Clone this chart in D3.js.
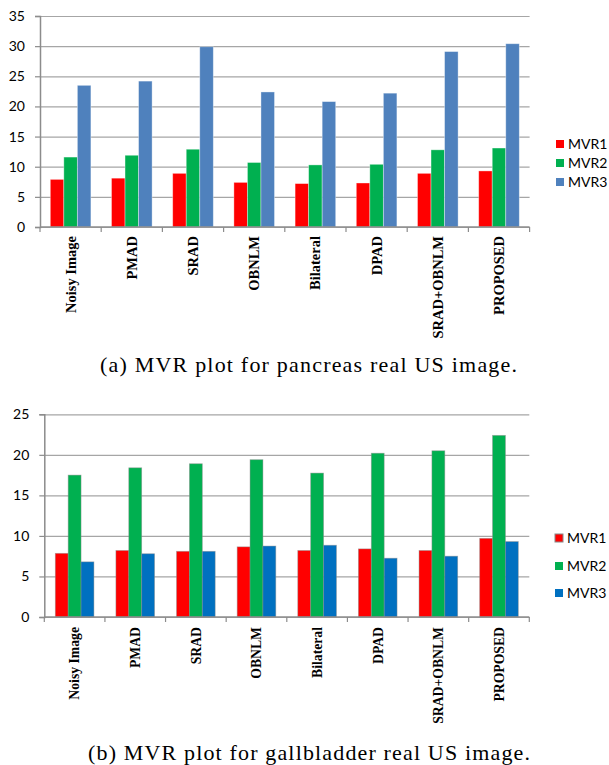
<!DOCTYPE html>
<html>
<head>
<meta charset="utf-8">
<script src="https://cdn.jsdelivr.net/npm/d3@7"></script>
<style>
    body { margin: 0; background: #fff; }
    svg { display: block; }
</style>
</head>
<body>
<svg id="chart" width="609" height="765"></svg>
<script>
const methods = ["Noisy Image", "PMAD", "SRAD", "OBNLM", "Bilateral", "DPAD", "SRAD+OBNLM", "PROPOSED"];
const seriesNames = ["MVR1", "MVR2", "MVR3"];

// (a) pancreas
const pancreasMVR1 = [7.9, 8.1, 8.9, 7.4, 7.2, 7.3, 8.9, 9.3];
const pancreasMVR2 = [11.6, 11.9, 12.9, 10.7, 10.3, 10.4, 12.8, 13.1];
const pancreasMVR3 = [23.5, 24.2, 29.9, 22.4, 20.8, 22.2, 29.1, 30.4];
const pancreasTicks = [0, 5, 10, 15, 20, 25, 30, 35];

// (b) gallbladder
const gallMVR1 = [7.85, 8.2, 8.1, 8.65, 8.2, 8.4, 8.2, 9.7];
const gallMVR2 = [17.5, 18.4, 18.9, 19.4, 17.75, 20.2, 20.5, 22.4];
const gallMVR3 = [6.8, 7.8, 8.1, 8.75, 8.85, 7.25, 7.5, 9.3];
const gallTicks = [0, 5, 10, 15, 20, 25];

class GroupedBars {
    constructor(svg, opts) {
        this.svg = d3.select(svg);
        this.o = opts;
    }

    draw() {
        const o = this.o;
        const g = this.svg.append("g");

        const x = d3.scaleBand().domain(methods).range([o.left, o.right]).padding(0);
        const bw = x.bandwidth();
        const inner = d3.scaleBand().domain(seriesNames).range([o.groupPad, bw - o.groupPad]).padding(0);
        const y = d3.scaleLinear().domain([0, d3.max(o.ticks)]).range([o.bottom, o.top]);

        // gridlines
        g.append("g")
            .attr("transform", `translate(${o.left},0)`)
            .call(d3.axisLeft(y).tickValues(o.ticks).tickSize(-(o.right - o.left)).tickFormat(""))
            .call(s => s.select(".domain").remove())
            .call(s => s.selectAll("line").attr("stroke", "#a6a6a6").attr("stroke-width", 1.2));

        // y axis
        g.append("g")
            .attr("transform", `translate(${o.left},0)`)
            .call(d3.axisLeft(y).tickValues(o.ticks).tickSize(5).tickPadding(10))
            .call(s => s.select(".domain").attr("stroke", "#8c8c8c").attr("stroke-width", 1.5))
            .call(s => s.selectAll("line").attr("stroke", "#8c8c8c").attr("stroke-width", 1.2))
            .call(s => s.selectAll("text")
                .attr("font-family", "Lato, 'Open Sans', sans-serif")
                .attr("font-size", 14)
                .attr("fill", "#000"));

        // bars
        const rows = methods.map((m, i) => ({ m, vals: o.series.map((s, k) => ({ key: seriesNames[k], v: s[i] })) }));
        g.append("g").selectAll("g")
            .data(rows)
            .join("g")
            .attr("transform", d => `translate(${x(d.m)},0)`)
            .selectAll("rect")
            .data(d => d.vals)
            .join("rect")
            .attr("x", d => inner(d.key))
            .attr("width", inner.bandwidth())
            .attr("y", d => y(d.v))
            .attr("height", d => y(0) - y(d.v))
            .attr("fill", (d, k) => o.colors[k])
            .attr("stroke", o.barStroke)
            .attr("stroke-width", 0.8);

        // x axis with boundary ticks
        const bounds = methods.map(m => x(m)).concat([x.range()[1]]);
        const xa = g.append("g");
        xa.append("line")
            .attr("x1", o.left).attr("x2", o.right)
            .attr("y1", y(0)).attr("y2", y(0))
            .attr("stroke", "#8c8c8c").attr("stroke-width", 1.5);
        xa.selectAll(".tick")
            .data(bounds)
            .join("line")
            .attr("x1", d => d).attr("x2", d => d)
            .attr("y1", y(0)).attr("y2", y(0) + 5)
            .attr("stroke", "#8c8c8c").attr("stroke-width", 1.2);

        xa.selectAll(".cat")
            .data(methods)
            .join("text")
            .attr("transform", d => `translate(${x(d) + bw / 2},${y(0) + o.labelGap}) rotate(-90)`)
            .attr("text-anchor", "end")
            .attr("dy", "0.35em")
            .attr("font-family", "'Liberation Serif', 'Times New Roman', serif")
            .attr("font-weight", "bold")
            .attr("font-size", o.catSize)
            .attr("fill", "#000")
            .text(d => d);

        // legend
        const lg = g.append("g");
        lg.selectAll("g")
            .data(seriesNames)
            .join("g")
            .attr("transform", (d, i) => `translate(${o.legendX},${o.legendY[i]})`)
            .each(function (d, i) {
                const e = d3.select(this);
                e.append("rect")
                    .attr("x", 0).attr("y", -4)
                    .attr("width", 8).attr("height", 8)
                    .attr("fill", o.colors[i])
                    .attr("stroke", o.legendStroke[i])
                    .attr("stroke-width", 1);
                e.append("text")
                    .attr("x", 12).attr("dy", "0.36em")
                    .attr("font-family", "Lato, 'Open Sans', sans-serif")
                    .attr("font-size", 14)
                    .attr("fill", "#000")
                    .text(d);
            });

        // caption
        g.append("text")
            .attr("x", o.captionX)
            .attr("y", o.captionY)
            .attr("font-family", "'Liberation Serif', 'Times New Roman', serif")
            .attr("font-size", 22)
            .attr("textLength", o.captionW)
            .attr("lengthAdjust", "spacing")
            .attr("fill", "#000")
            .text(o.caption);
    }
}

new GroupedBars("#chart", {
    left: 40, right: 529.6, top: 16, bottom: 227,
    ticks: pancreasTicks,
    series: [pancreasMVR1, pancreasMVR2, pancreasMVR3],
    colors: ["#ff0000", "#00b050", "#4f81bd"],
    barStroke: "rgba(255,255,255,0.45)",
    groupPad: 10.3,
    labelGap: 9,
    catSize: 14.5,
    legendX: 556, legendY: [144, 163, 182],
    legendStroke: ["none", "none", "none"],
    caption: "(a) MVR plot for pancreas real US image.",
    captionX: 100, captionY: 372, captionW: 417
}).draw();

new GroupedBars("#chart", {
    left: 44.3, right: 529.3, top: 414.3, bottom: 617,
    ticks: gallTicks,
    series: [gallMVR1, gallMVR2, gallMVR3],
    colors: ["#ff0000", "#00b050", "#0070c0"],
    barStroke: "rgba(140,140,140,0.55)",
    groupPad: 11,
    labelGap: 10,
    catSize: 13.7,
    legendX: 555, legendY: [538, 566, 593],
    legendStroke: ["#888", "none", "none"],
    caption: "(b) MVR plot for gallbladder real US image.",
    captionX: 88, captionY: 760, captionW: 442
}).draw();
</script>
</body>
</html>
